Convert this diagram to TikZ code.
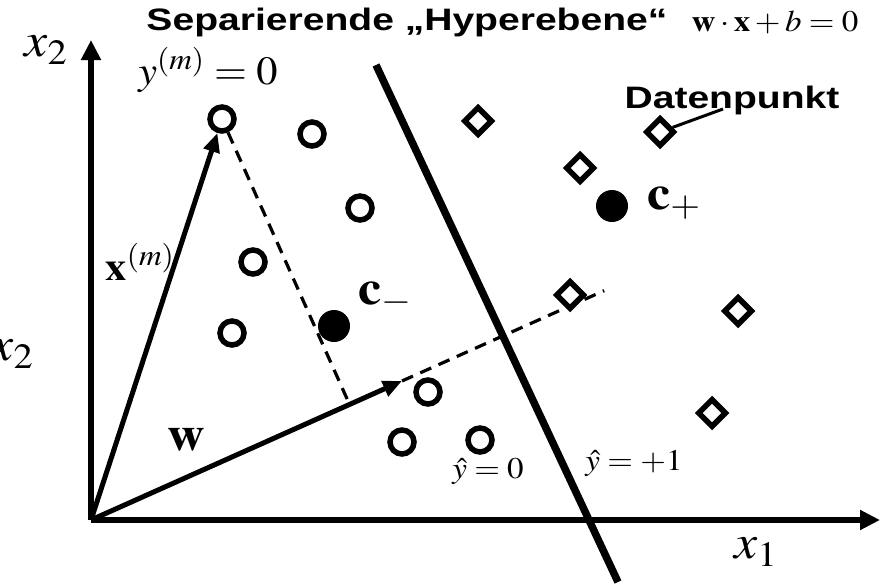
\documentclass[tikz,border=0pt]{standalone}
\usepackage{amsmath}
\usepackage{mathptmx}
\usepackage{fontspec}
\setmainfont{Liberation Serif}
\newfontfamily\headfont{Liberation Sans}
\usetikzlibrary{positioning,arrows.meta,shapes.geometric,calc}

\begin{document}
\begin{tikzpicture}[x=1pt, y=-1pt,
  axis/.style={line width=6pt, -{Triangle[length=20pt,width=19pt]}},
  vec/.style={line width=5pt, -{Triangle[length=19pt,width=16pt]}},
  proj/.style={line width=3.2pt, dash pattern=on 12pt off 8pt},
  hyper/.style={line width=7.5pt},
  negpt/.style={circle, draw, line width=5.5pt, minimum size=24pt, inner sep=0pt},
  pospt/.style={diamond, draw, line width=5.5pt, minimum size=29pt, inner sep=0pt},
  mean/.style={circle, fill, minimum size=32pt, inner sep=0pt},
  big/.style={inner sep=0pt, xscale=1.08, font=\fontsize{48}{52}\selectfont},
  mlbl/.style={inner sep=0pt, xscale=1.06, font=\fontsize{40}{44}\selectfont},
  slbl/.style={inner sep=0pt, xscale=1.1, font=\fontsize{30}{34}\selectfont},
  head/.style={inner sep=0pt, xscale=1.26, font=\headfont\bfseries\fontsize{31}{34}\selectfont}]
\useasboundingbox (0,0) rectangle (884,584);
% axes
\coordinate (O) at (91,520);
\coordinate (x1end) at (880,520);
\coordinate (x2end) at (91,40);
\draw[axis] (O) -- (x1end);
\draw[axis] (O) -- (x2end);
\node[big] (x2a) at (46,50) {$x_2$};
\node[big] (x2b) at (12,354) {$x_2$};
\node[big] (x1) at (756,552) {$x_1$};
% class -1 points
\node[negpt] (xm) at (222,119) {};
\node[negpt] (n2) at (312,134) {};
\node[negpt] (n3) at (360,208) {};
\node[negpt] (n4) at (253,262) {};
\node[negpt] (n5) at (232,333) {};
\node[negpt] (n6) at (428,392) {};
\node[negpt] (n7) at (402,442) {};
\node[negpt] (n8) at (480,440) {};
% class +1 points
\node[pospt] (p1) at (478,121) {};
\node[pospt] (dp) at (660,132) {};
\node[pospt] (p3) at (580,168) {};
\node[pospt] (p4) at (570,295) {};
\node[pospt] (p5) at (738,311) {};
\node[pospt] (p6) at (712,413) {};
% class means
\node[mean] (cm) at (334,326) {};
\node[mean] (cp) at (612,206) {};
\node[big] (cml) at (385,298) {$\mathbf{c}_{-}$};
\node[big] (cpl) at (674,203) {$\mathbf{c}_{+}$};
% vectors
\coordinate (wtip) at (402,381);
\coordinate (foot) at ($(O)!(xm)!(wtip)$);
\coordinate (wext) at ($(O)!1.65!(wtip)$);
\draw[proj] (xm) -- (foot);
\draw[proj] (wtip) -- (wext);
\draw[vec] (O) -- (xm);
\draw[vec] (O) -- (wtip);
\node[mlbl] (xml) at (140,262) {$\mathbf{x}^{(m)}$};
\node[big] (wl) at (186,440) {$\mathbf{w}$};
\node[mlbl] (yml) at (208,70) {$y^{(m)}=0$};
% hyperplane
\coordinate (hTop) at (376,65);
\coordinate (hBot) at (618,582);
\draw[hyper] (hTop) -- (hBot);
\node[head] (title) at (407,22) {Separierende „Hyperebene“};
\node[slbl] (eq) at (775,22) {$\mathbf{w}\cdot\mathbf{x}+b=0$};
\node[slbl] (y0) at (488,472) {$\hat{y}=0$};
\node[slbl] (y1) at (634,464) {$\hat{y}=+1$};
% label
\node[head] (dpl) at (732,100) {Datenpunkt};
\coordinate (lead) at (723,109);
\draw[line width=3pt] (dp) -- (lead);
\end{tikzpicture}
\end{document}
